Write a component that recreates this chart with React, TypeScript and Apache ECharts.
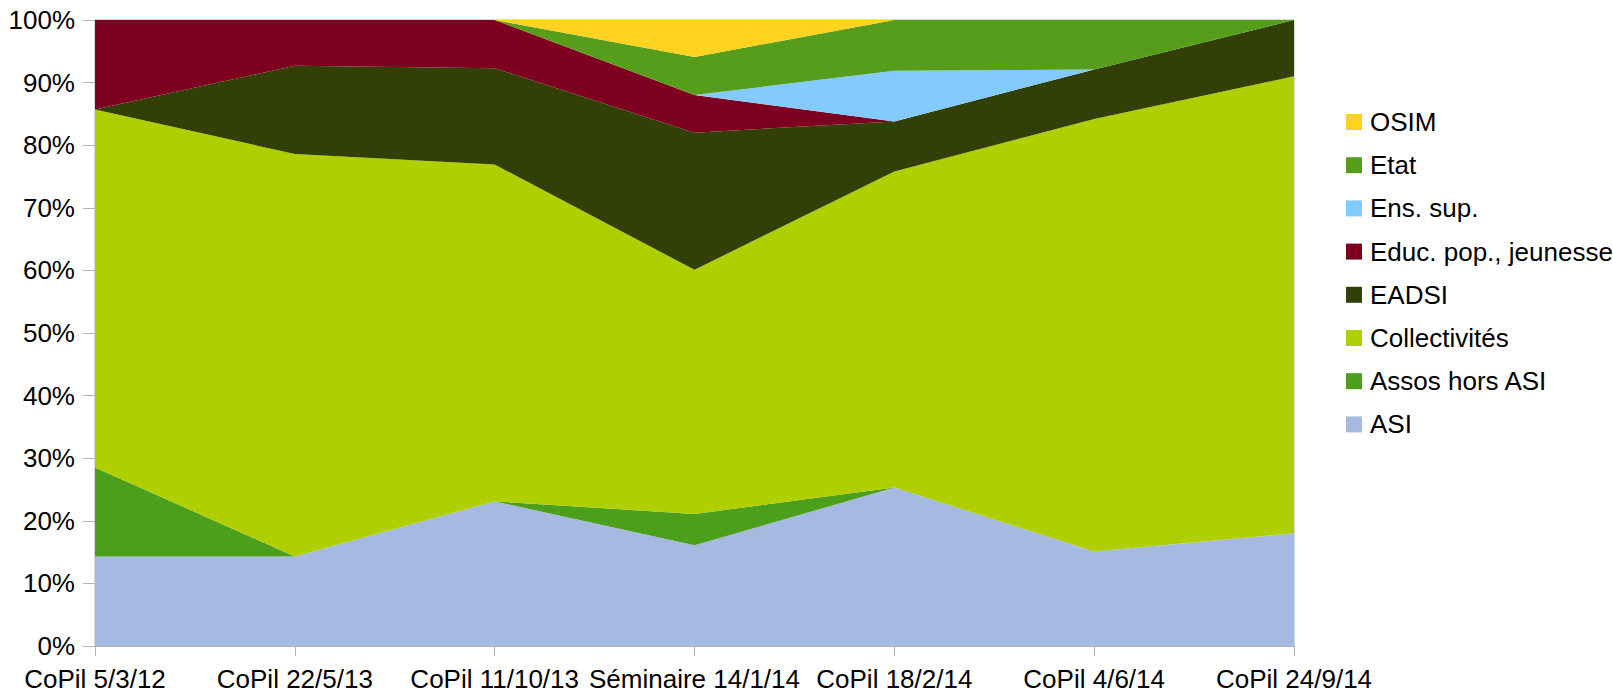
import React, { useEffect, useRef } from "react";
import * as echarts from "echarts";

const categories = [
  "CoPil 5/3/12",
  "CoPil 22/5/13",
  "CoPil 11/10/13",
  "Séminaire 14/1/14",
  "CoPil 18/2/14",
  "CoPil 4/6/14",
  "CoPil 24/9/14",
];

const seriesNames = [
  "ASI",
  "Assos hors ASI",
  "Collectivités",
  "EADSI",
  "Educ. pop., jeunesse",
  "Ens. sup.",
  "Etat",
  "OSIM",
];

const asi = [14.3, 14.3, 23.1, 16.1, 25.3, 15.1, 18.0];
const assosHorsAsi = [14.2, 0, 0, 5.0, 0, 0, 0];
const collectivites = [57.2, 64.3, 53.8, 39.0, 50.5, 69.1, 73.0];
const eadsi = [0, 14.1, 15.4, 21.9, 8.0, 7.9, 9.0];
const educPop = [14.3, 7.3, 7.7, 6.0, 0, 0, 0];
const ensSup = [0, 0, 0, 0, 8.1, 0, 0];
const etat = [0, 0, 0, 6.1, 8.1, 7.9, 0];
const osim = [0, 0, 0, 5.9, 0, 0, 0];

const seriesValues = [asi, assosHorsAsi, collectivites, eadsi, educPop, ensSup, etat, osim];

const colors = [
  "#a6b9e0",
  "#4b9f1a",
  "#afcf00",
  "#323f06",
  "#7e0021",
  "#83caff",
  "#579d1c",
  "#ffd320",
];

const yTicks = [0, 10, 20, 30, 40, 50, 60, 70, 80, 90, 100];

const FONT = "'Liberation Sans', Arial, sans-serif";

export default function App() {
  const ref = useRef<HTMLDivElement>(null);

  useEffect(() => {
    if (!ref.current) return;
    const chart = echarts.init(ref.current, undefined, { renderer: "svg" });
    chart.setOption({
      animation: false,
      backgroundColor: "#ffffff",
      textStyle: { fontFamily: FONT },
      grid: {
        left: 95,
        right: 319,
        top: 20,
        bottom: 47,
        show: true,
        borderColor: "#b3b3b3",
        borderWidth: 1,
        backgroundColor: "transparent",
      },
      legend: {
        orient: "vertical",
        left: 1341,
        top: 104,
        icon: "rect",
        itemWidth: 16,
        itemHeight: 16,
        itemGap: 17.2,
        data: seriesNames.slice().reverse(),
        textStyle: {
          fontFamily: FONT,
          fontSize: 26,
          color: "#000",
          lineHeight: 26,
          padding: [0, 0, 0, 3],
        },
      },
      xAxis: {
        type: "category",
        data: categories,
        boundaryGap: false,
        axisLine: { show: true, lineStyle: { color: "#b3b3b3" } },
        axisTick: { show: true, length: 10, lineStyle: { color: "#b3b3b3" } },
        axisLabel: {
          fontFamily: FONT,
          fontSize: 26,
          color: "#000",
          margin: 20,
          interval: 0,
        },
        splitLine: { show: false },
      },
      yAxis: {
        type: "value",
        min: 0,
        max: 100,
        interval: 10,
        axisLine: { show: true, lineStyle: { color: "#b3b3b3" } },
        axisTick: { show: true, length: 12, lineStyle: { color: "#b3b3b3" } },
        axisLabel: {
          fontFamily: FONT,
          fontSize: 26,
          color: "#000",
          margin: 20,
          formatter: (v: number) => (yTicks.includes(v) ? `${v}%` : ""),
        },
        splitLine: { show: false },
      },
      series: seriesNames.map((name, i) => ({
        name,
        type: "line",
        stack: "total",
        data: seriesValues[i],
        symbol: "none",
        showSymbol: false,
        lineStyle: { width: 0, color: colors[i] },
        itemStyle: { color: colors[i] },
        areaStyle: { color: colors[i], opacity: 1 },
      })),
    });
    return () => chart.dispose();
  }, []);

  return (
    <div
      ref={ref}
      style={{ position: "fixed", left: 0, top: 0, width: 1613, height: 693 }}
    />
  );
}
